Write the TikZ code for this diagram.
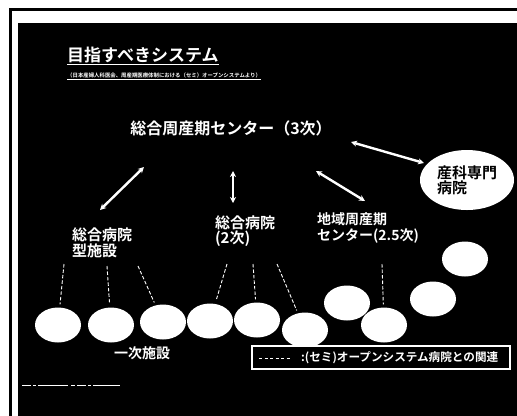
\documentclass[tikz,border=0pt]{standalone}
\usepackage{fontspec}
\newfontfamily\jp{Noto Sans CJK JP}[BoldFont={Noto Sans CJK JP Bold}]
\usetikzlibrary{arrows.meta,shapes.geometric,calc}
\tikzset{
  wtext/.style={text=white,font=\jp\bfseries,inner sep=0pt},
  blob/.style={ellipse,fill=white,draw=none,minimum width=46bp,minimum height=35bp,inner sep=0pt},
  arr/.style={draw=white,line width=2.4bp,{Stealth[length=6bp,width=6bp]}-{Stealth[length=6bp,width=6bp]}},
  link/.style={draw=white,line width=0.9bp,dash pattern=on 3.5bp off 2bp,shorten >=3bp}
}
\begin{document}
\begin{tikzpicture}[x=1bp,y=-1bp]
\useasboundingbox (0,0) rectangle (517,415);
\clip (0,0) rectangle (517,415);
\fill[white] (0,0) rectangle (517,415);
\draw[black,line width=2.2bp] (10.5,9.5) rectangle (540,440);
\fill[black] (18,23) rectangle (540,440);

% title
\node[wtext,font=\jp\bfseries\fontsize{17bp}{19bp}\selectfont,anchor=north west] (title) at (67,47) {目指すべきシステム};
\draw[white,line width=1.2bp] ($(title.south west)+(0,1.5)$) -- ($(title.south east)+(0,1.5)$);
\node[wtext,font=\jp\bfseries\fontsize{5.4bp}{6bp}\selectfont,anchor=north west] (sub) at (67,72.5) {（日本産婦人科医会、周産期医療体制における（セミ）オープンシステムより）};
\draw[white,line width=0.6bp] ($(sub.south west)+(0,0.8)$) -- ($(sub.south east)+(0,0.8)$);

% main nodes
\node[wtext,font=\jp\bfseries\fontsize{16bp}{18bp}\selectfont] (center) at (231,128) {総合周産期センター（3次）};
\node[ellipse,fill=white,minimum width=94bp,minimum height=60bp,inner sep=0pt,align=left,
      font=\jp\bfseries\fontsize{15bp}{15bp}\selectfont,text=black] (sp) at (467,180) {産科専門\\病院};
\node[wtext,align=left,font=\jp\bfseries\fontsize{15bp}{16bp}\selectfont] (tA) at (102,243) {総合病院\\型施設};
\node[wtext,align=left,font=\jp\bfseries\fontsize{15bp}{15.5bp}\selectfont] (tB) at (245,231) {総合病院\\(2次)};
\node[wtext,align=left,font=\jp\bfseries\fontsize{14bp}{16bp}\selectfont] (tC) at (368,228) {地域周産期\\センター(2.5次)};

% arrows
\coordinate (a1s) at (100,210); \coordinate (a1e) at (144,167);
\coordinate (a2s) at (233,203); \coordinate (a2e) at (233,171);
\coordinate (a3s) at (365,201); \coordinate (a3e) at (316,171);
\coordinate (a4s) at (351,142); \coordinate (a4e) at (424,163);
\draw[arr] (a1s) -- (a1e);
\draw[arr] (a2s) -- (a2e);
\draw[arr] (a3s) -- (a3e);
\draw[arr] (a4s) -- (a4e);

% primary facilities
\node[blob] (e1) at (58,325) {};
\node[blob] (e2) at (111,325) {};
\node[blob] (e3) at (163,322) {};
\node[blob] (e4) at (210,321) {};
\node[blob] (e5) at (257,320) {};
\node[blob] (e6) at (305,330) {};
\node[blob] (e7) at (347,303) {};
\node[blob] (e8) at (384,325) {};
\node[blob] (e9) at (433,299) {};
\node[blob] (e10) at (465,259) {};

% dashed relations
\coordinate (d1) at (64,264); \coordinate (d2) at (107,266); \coordinate (d3) at (138,266);
\coordinate (d4) at (227,264); \coordinate (d5) at (253,264); \coordinate (d6) at (277,264);
\coordinate (d7) at (382,264);
\draw[link] (d1) -- (e1);
\draw[link] (d2) -- (e2);
\draw[link] (d3) -- (e3);
\draw[link] (d4) -- (e4);
\draw[link] (d5) -- (e5);
\draw[link] (d6) -- (e6);
\draw[link] (d7) -- (e8);

\node[wtext,font=\jp\bfseries\fontsize{14bp}{16bp}\selectfont] (prim) at (142,353) {一次施設};

% legend
\node[draw=white,line width=1.3bp,fill=black,minimum width=258bp,minimum height=23bp,inner sep=0pt] (leg) at (381,357.5) {};
\coordinate (l1) at (259,358); \coordinate (l2) at (291,358);
\draw[white,line width=0.8bp,dash pattern=on 3bp off 2.5bp] (l1) -- (l2);
\node[wtext,anchor=west,font=\jp\bfseries\fontsize{11.6bp}{13bp}\selectfont] (legtxt) at (301,357.5) {:(セミ)オープンシステム病院との関連};

% footer fragment
\draw[white,line width=1bp,dash pattern=on 9bp off 2bp on 3bp off 2bp on 30bp off 3bp on 4bp off 2bp] (22,385) -- (120,385);
\end{tikzpicture}
\end{document}
